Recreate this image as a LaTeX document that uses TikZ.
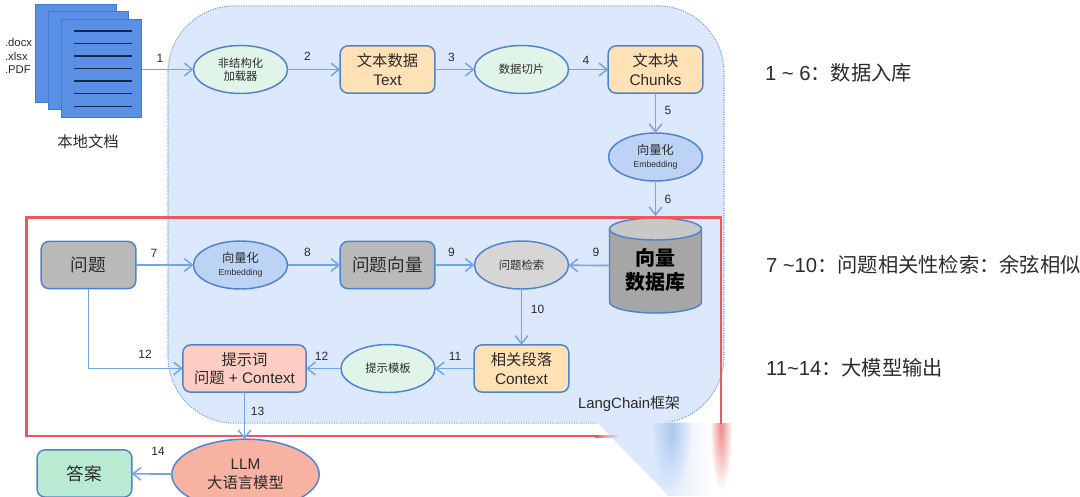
\documentclass[tikz,border=0pt]{standalone}
\usepackage{fontspec}
\setmainfont{Liberation Sans}
\newfontfamily\cjk{Noto Sans CJK SC}
\usetikzlibrary{shapes.geometric,arrows.meta,fadings,shadings}
\definecolor{panelfill}{HTML}{DCE8FB}
\definecolor{edgeblue}{HTML}{4F83CF}
\definecolor{arrowblue}{HTML}{74A3E6}
\definecolor{redline}{HTML}{E85A5F}
\definecolor{ink}{HTML}{2B2B2B}
\newcommand{\fs}[1]{\fontsize{#1pt}{\dimexpr #1pt*6/5\relax}\selectfont}
\tikzset{
  x=0.75pt,y=-0.75pt,
  every node/.style={text=ink,inner sep=0pt,outer sep=0pt,align=center},
  boxb/.style={draw=edgeblue,line width=1.1pt,rounded corners=6pt,minimum width=71pt,minimum height=35.5pt},
  orangebox/.style={boxb,fill=boxorange},
  ell/.style={ellipse,draw=edgeblue,line width=1.1pt,minimum width=70.5pt,minimum height=36pt},
  greenell/.style={ell,fill=ellgreen},
  blueell/.style={ell,fill=ellblue},
  doc/.style={draw=docedge,fill=docfill,line width=0.9pt,minimum width=60.5pt,minimum height=73pt},
  flow/.style={draw=arrowblue,line width=1.25pt,-{Straight Barb[length=6pt,width=9.5pt,line width=1.1pt]}},
  num/.style={font=\fs{9}},
  docline/.style={draw=docink,line width=1pt},
  side/.style={anchor=west,font=\fs{15.2}},
}
\definecolor{boxorange}{HTML}{FFE1B6}
\definecolor{ellgreen}{HTML}{E0F4E9}
\definecolor{ellblue}{HTML}{BDD3F5}
\definecolor{docfill}{HTML}{5A8FE6}
\definecolor{docedge}{HTML}{3F7BD6}
\definecolor{docink}{HTML}{10284F}
\definecolor{greybox}{HTML}{B9B9B9}
\definecolor{greyell}{HTML}{D6D6D6}
\definecolor{pinkbox}{HTML}{FDCCC2}
\definecolor{salmon}{HTML}{F8B2A2}
\definecolor{mint}{HTML}{B8EBD2}
\definecolor{dbbody}{HTML}{A6A6A6}
\definecolor{dbtop}{HTML}{C8C8C8}
\tikzfading[name=faderight,left color=transparent!0,right color=transparent!100]
\tikzfading[name=softdisc,inner color=transparent!0,outer color=transparent!100]
\begin{document}
\begin{tikzpicture}
\useasboundingbox (0,0) rectangle (1080,496);
\fill[white] (0,0) rectangle (1080,496);
% panel
\node[draw=edgeblue!80,densely dotted,line width=0.8pt,fill=panelfill,rounded corners=50pt,minimum width=417pt,minimum height=313pt] (panel) at (446,214.5) {};
% documents
\node[doc] (d1) at (76,53.5) {};
\node[doc] (d2) at (88.5,60.5) {};
\node[doc] (d3) at (101.5,68.5) {};
\foreach \y in {31,43.5,56,68.5,81,93.5,106.5}{\draw[docline] (74,\y) -- (132,\y);}
\node[font=\fs{8.5},anchor=west,align=left,text=ink] (ext) at (5,56) {.docx\\[-0.2pt].xlsx\\[-0.2pt].PDF};
\node[font=\fs{11.5}\cjk] (local) at (88,142) {本地文档};
% row 1
\node[greenell,font=\fs{8.5}\cjk] (loader) at (240.5,69.5) {非结构化\\加载器};
\node[orangebox,font=\fs{11.5}] (text) at (387.5,69.5) {{\cjk 文本数据}\\Text};
\node[greenell,font=\fs{8.5}\cjk] (split) at (521.5,69.5) {数据切片};
\node[orangebox,font=\fs{11.5}] (chunks) at (655.5,69.5) {{\cjk 文本块}\\Chunks};
\node[blueell,font=\fs{9.2}] (emb1) at (655.5,157) {{\cjk 向量化}\\[-1.5pt]{\fs{6.5}Embedding}};
% database
\node[minimum width=70pt,minimum height=71.5pt] (db) at (655.5,265.5) {};
\draw[draw=edgeblue,fill=dbbody,line width=1.1pt] (609.5,229) -- (609.5,302) arc[start angle=180,end angle=0,x radius=46,y radius=11] -- (701.5,229) -- cycle;
\draw[draw=edgeblue,fill=dbtop,line width=1.1pt] (655.5,229) ellipse[x radius=46,y radius=11];
\node[font=\fs{15}\cjk,text=black] (dbtext) at (655.5,270) {\textbf{向量}\\\textbf{数据库}};
% row 2
\node[boxb,fill=greybox,font=\fs{13.2}\cjk] (q) at (88.5,265) {问题};
\node[blueell,font=\fs{9.2}] (emb2) at (240.5,265) {{\cjk 向量化}\\[-1.5pt]{\fs{6.5}Embedding}};
\node[boxb,fill=greybox,font=\fs{13.2}\cjk] (qv) at (387.5,265) {问题向量};
\node[ell,fill=greyell,font=\fs{8.5}\cjk] (search) at (521.5,265) {问题检索};
% row 3
\node[orangebox,font=\fs{11.5}] (ctx) at (521.5,368.5) {{\cjk 相关段落}\\Context};
\node[greenell,font=\fs{8.5}\cjk] (tpl) at (388,368.5) {提示模板};
\node[boxb,fill=pinkbox,minimum width=92.5pt,font=\fs{11.5}] (prompt) at (244.5,368.5) {{\cjk 提示词}\\{\cjk 问题} + Context};
% output
\node[ell,fill=salmon,minimum width=110.5pt,minimum height=53pt,font=\fs{11.5}] (llm) at (245.5,474.5) {LLM\\{\cjk 大语言模型}};
\node[boxb,fill=mint,font=\fs{13.2}\cjk] (ans) at (84.5,473.5) {答案};
% red frame
\coordinate (rA) at (721,424);
\coordinate (rB) at (721,217.5);
\coordinate (rC) at (26.5,217.5);
\coordinate (rD) at (26.5,436);
\coordinate (rE) at (595,436);
\draw[redline,line width=2.2pt,line join=miter] (rA) -- (rB) -- (rC) -- (rD) -- (rE);
% arrows
\draw[flow] (d3.east |- loader) -- (loader);
\draw[flow] (loader) -- (text);
\draw[flow] (text) -- (split);
\draw[flow] (split) -- (chunks);
\draw[flow] (chunks) -- (emb1);
\draw[flow] (emb1.south) -- (655.5,216);
\draw[flow] (q) -- (emb2);
\draw[flow] (emb2) -- (qv);
\draw[flow] (qv) -- (search);
\draw[flow] (db.west) -- (search);
\draw[flow] (search) -- (ctx);
\draw[flow] (ctx) -- (tpl);
\draw[flow] (tpl) -- (prompt);
\draw[flow] (q.south) |- (prompt.west);
\draw[flow] (prompt) -- (prompt.south |- llm.north);
\draw[flow] (llm) -- (ans);
% numbers
\node[num] (n1) at (160,58) {1};
\node[num] (n2) at (307.5,56.5) {2};
\node[num] (n3) at (451.5,57) {3};
\node[num] (n4) at (586,60) {4};
\node[num] (n5) at (668,110) {5};
\node[num] (n6) at (668,199) {6};
\node[num] (n7) at (154,253) {7};
\node[num] (n8) at (307.5,252.5) {8};
\node[num] (n9a) at (451.5,252.5) {9};
\node[num] (n9b) at (596,252.5) {9};
\node[num] (n10) at (537.5,309) {10};
\node[num] (n11) at (455,356.5) {11};
\node[num] (n12a) at (145,354.5) {12};
\node[num] (n12b) at (321.5,356.5) {12};
\node[num] (n13) at (257.5,411.5) {13};
\node[num] (n14) at (158,451.5) {14};
\node[font=\fs{11.2},anchor=west] (lc) at (578,404) {LangChain{\cjk 框架}};
% side notes
\node[side] (s1) at (765,73) {1 \textasciitilde{} 6{\cjk ：数据入库}};
\node[side] (s2) at (766,265) {7 \textasciitilde{}10{\cjk ：问题相关性检索：余弦相似}};
\node[side] (s3) at (766,368) {11\textasciitilde{}14{\cjk ：大模型输出}};
% smear
\fill[white] (596,424) -- (668,496) -- (730,496) -- (730,424) -- cycle;
\fill[panelfill] (596,421.5) -- (660,487) -- (660,421.5) -- cycle;
\fill[panelfill,path fading=faderight] (660,421.5) -- (660,487) -- (668,496) -- (712,496) -- (712,423) -- cycle;
\begin{scope}
\clip (650,423) rectangle (735,496);
\fill[arrowblue,opacity=0.5,path fading=softdisc] (672,430) ellipse[x radius=20,y radius=62];
\fill[redline,opacity=0.7,path fading=softdisc] (721,428) ellipse[x radius=11,y radius=62];
\end{scope}
\foreach \i in {0,...,11}{
  \pgfmathsetmacro\op{1-\i/12}
  \fill[redline,opacity=\op] (595+2*\i,434.5) rectangle (597+2*\i,437.5);
}
\end{tikzpicture}
\end{document}
